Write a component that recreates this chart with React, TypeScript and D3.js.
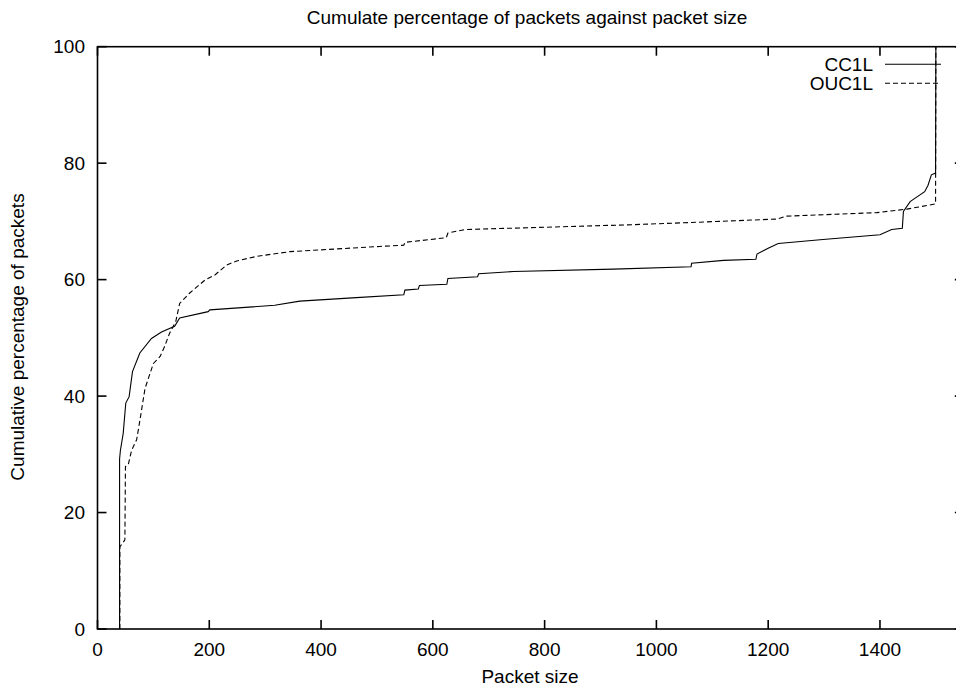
import React, { useEffect, useRef } from "react";
import * as d3 from "d3";

// CC1L cumulative curve (packet size, % of packets)
const cc1lSize = [39.5, 39.5, 41, 46, 50.6, 56.6, 62.6, 75.7, 96.6, 114.5, 138, 147, 198, 201, 317, 362, 463, 548, 550, 574, 576, 625, 627, 680, 682, 744, 923, 1062, 1063, 1120, 1178, 1180, 1200, 1218, 1298, 1400, 1421, 1440, 1442, 1454, 1463, 1480, 1486, 1492, 1499.5, 1500];
const cc1lPct = [0, 29.2, 30.7, 33.6, 38.8, 39.9, 44.2, 47.4, 49.9, 51, 52, 53.4, 54.5, 54.8, 55.6, 56.3, 56.9, 57.4, 58.2, 58.4, 59, 59.2, 60.2, 60.5, 61.0, 61.4, 61.8, 62.2, 62.8, 63.3, 63.5, 64.4, 65.4, 66.2, 66.9, 67.7, 68.6, 68.8, 71.7, 73.4, 74, 75.1, 76.2, 78, 78.3, 100];

// OUC1L cumulative curve
const ouc1lSize = [40, 40, 49, 50, 55, 61, 70, 76, 85, 94, 100, 112, 120, 129, 140, 147, 165, 192, 210, 231, 249, 285, 344, 505, 548, 550, 624, 627, 657, 947, 1060, 1215, 1233, 1394, 1448, 1499.5, 1500];
const ouc1lPct = [0, 14.1, 15.3, 27.9, 28.2, 30.7, 32.5, 35.9, 41.3, 43.9, 45.6, 46.8, 48.5, 50.8, 52.8, 55.9, 57.7, 59.9, 60.8, 62.5, 63.2, 64, 64.8, 65.7, 65.9, 66.4, 67.2, 68, 68.6, 69.4, 69.8, 70.4, 70.9, 71.5, 72.1, 73, 100];

const xTicks = [0, 200, 400, 600, 800, 1000, 1200, 1400];
const yTicks = [0, 20, 40, 60, 80, 100];

const seriesNames = ["CC1L", "OUC1L"];

function App() {
  const ref = useRef<SVGSVGElement>(null);

  useEffect(() => {
    const svg = d3.select(ref.current);
    svg.selectAll("*").remove();

    const left = 97.5, right = 963.8, top = 46.7, bottom = 629;
    const font = "'Liberation Sans', Arial, sans-serif";
    const fs = 19;

    const x = d3.scaleLinear().domain([0, 1550]).range([left, right]);
    const y = d3.scaleLinear().domain([0, 100]).range([bottom, top]);

    const g = svg.append("g");

    // frame
    g.append("rect")
      .attr("x", left).attr("y", top)
      .attr("width", right - left).attr("height", bottom - top)
      .attr("fill", "none").attr("stroke", "#000").attr("stroke-width", 1.6);

    const tickLen = 9;
    // x ticks (bottom and top, inward)
    xTicks.forEach(t => {
      g.append("line").attr("x1", x(t)).attr("x2", x(t))
        .attr("y1", bottom).attr("y2", bottom - tickLen)
        .attr("stroke", "#000").attr("stroke-width", 1.6);
      g.append("line").attr("x1", x(t)).attr("x2", x(t))
        .attr("y1", top).attr("y2", top + tickLen)
        .attr("stroke", "#000").attr("stroke-width", 1.6);
      g.append("text").text(t)
        .attr("x", x(t)).attr("y", 656)
        .attr("text-anchor", "middle")
        .attr("font-family", font).attr("font-size", fs);
    });

    // y ticks (left and right, inward)
    yTicks.forEach(t => {
      g.append("line").attr("x1", left).attr("x2", left + tickLen)
        .attr("y1", y(t)).attr("y2", y(t))
        .attr("stroke", "#000").attr("stroke-width", 1.6);
      g.append("line").attr("x1", right).attr("x2", right - tickLen)
        .attr("y1", y(t)).attr("y2", y(t))
        .attr("stroke", "#000").attr("stroke-width", 1.6);
      g.append("text").text(t)
        .attr("x", 85).attr("y", y(t) + 6.5)
        .attr("text-anchor", "end")
        .attr("font-family", font).attr("font-size", fs);
    });

    // titles
    g.append("text").text("Cumulate percentage of packets against packet size")
      .attr("x", 527).attr("y", 23.5).attr("text-anchor", "middle")
      .attr("font-family", font).attr("font-size", fs);
    g.append("text").text("Packet size")
      .attr("x", 530).attr("y", 683).attr("text-anchor", "middle")
      .attr("font-family", font).attr("font-size", fs);
    g.append("text").text("Cumulative percentage of packets")
      .attr("transform", "translate(24,337) rotate(-90)")
      .attr("text-anchor", "middle")
      .attr("font-family", font).attr("font-size", fs);

    const series = [
      { size: cc1lSize, pct: cc1lPct, dash: null },
      { size: ouc1lSize, pct: ouc1lPct, dash: "5,3" },
    ];

    series.forEach((s, k) => {
      const pts = d3.range(s.size.length);
      const path = d3.line<number>()
        .x(i => x(s.size[i]))
        .y(i => y(s.pct[i]));
      g.append("path")
        .attr("d", path(pts))
        .attr("fill", "none")
        .attr("stroke", "#000")
        .attr("stroke-width", 1.1)
        .attr("stroke-dasharray", s.dash);

      // legend
      const ly = 64.3 + k * 19;
      g.append("text").text(seriesNames[k])
        .attr("x", 873).attr("y", ly + 7)
        .attr("text-anchor", "end")
        .attr("font-family", font).attr("font-size", fs);
      g.append("line")
        .attr("x1", 885).attr("x2", 941)
        .attr("y1", ly).attr("y2", ly)
        .attr("stroke", "#000").attr("stroke-width", 1.1)
        .attr("stroke-dasharray", s.dash);
    });
  }, []);

  return (
    <svg
      ref={ref}
      width={956}
      height={687}
      style={{ position: "absolute", left: 0, top: 0, background: "#fff" }}
    />
  );
}

export default App;
